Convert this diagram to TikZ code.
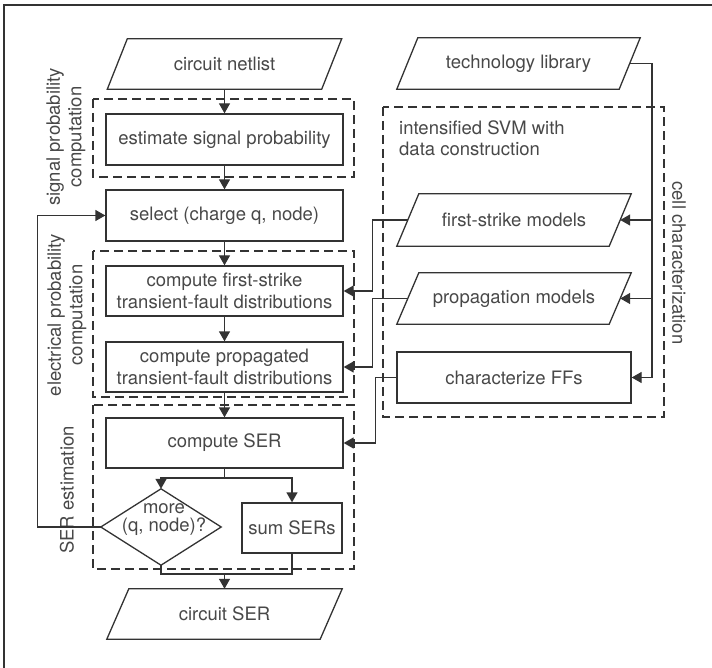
\documentclass[tikz,border=0pt]{standalone}
\usepackage{fontspec}
\setmainfont{TeX Gyre Heros}
\usetikzlibrary{arrows.meta,calc}
\definecolor{ink}{HTML}{333333}
\definecolor{txt}{HTML}{484848}
\newcommand\paradraw[2]{%
  \draw[line] ([xshift=#2pt]#1.north west) -- ([xshift=#2pt]#1.north east) -- ([xshift=-#2pt]#1.south east) -- ([xshift=-#2pt]#1.south west) -- cycle;}
\begin{document}
\begin{tikzpicture}[x=1pt,y=-1pt,
  line/.style={draw=ink, line width=1.3pt},
  tfont/.style={font=\fontsize{18.5}{21.5}\selectfont},
  box/.style={line, rectangle, inner sep=0pt, align=center, text=txt, tfont},
  pnode/.style={rectangle, inner sep=0pt, align=center, text=txt, tfont, draw=none},
  arr/.style={line, -{Triangle[length=10pt,width=11pt]}},
  dbox/.style={draw=ink, line width=1.1pt, dash pattern=on 9pt off 5pt},
  lbl/.style={text=txt, tfont, align=center, inner sep=0pt}]
\useasboundingbox (0,0) rectangle (712,668);
\draw[draw=ink, line width=1.5pt] (4,668) -- (4,5) -- (712,5);

% dashed groups
\draw[dbox] (93,99) rectangle (354,177);
\draw[dbox] (93,251) rectangle (354,397);
\draw[dbox] (93,405) rectangle (354,569);
\draw[dbox] (383,107) rectangle (664,417);

% left column
\node[pnode, minimum width=214pt, minimum height=50pt] (cn) at (224.5,64) {circuit netlist};
\paradraw{cn}{10}
\node[box, minimum width=237pt, minimum height=51pt] (est) at (224.5,139.5) {estimate signal probability};
\node[box, minimum width=237pt, minimum height=51pt] (sel) at (224.5,215.5) {select (charge q, node)};
\node[box, minimum width=237pt, minimum height=50pt] (fs) at (224.5,291) {compute first-strike\\transient-fault distributions};
\node[box, minimum width=237pt, minimum height=50pt] (pr) at (224.5,367) {compute propagated\\transient-fault distributions};
\node[box, minimum width=237pt, minimum height=50pt] (ser) at (224.5,443) {compute SER};
\node[pnode, minimum width=120pt, minimum height=76pt] (dm) at (161,527) {};
\draw[line] (dm.north) -- (dm.east) -- (dm.south) -- (dm.west) -- cycle;
\node[lbl, font=\fontsize{18.5}{18}\selectfont] (dmt) at (164,520) {more\\(q, node)?};
\node[box, minimum width=100pt, minimum height=50pt] (sum) at (292,528) {sum SERs};
\node[pnode, minimum width=213pt, minimum height=50pt] (cser) at (224.5,614) {circuit SER};
\paradraw{cser}{11}

% right column
\node[pnode, minimum width=222pt, minimum height=51pt] (tl) at (518.5,63.5) {technology library};
\paradraw{tl}{10.5}
\node[lbl, align=left, anchor=west] (svm) at (399,138) {intensified SVM with\\data construction};
\node[pnode, minimum width=212pt, minimum height=52pt] (fsm) at (514,220) {first-strike models};
\paradraw{fsm}{11}
\node[pnode, minimum width=212pt, minimum height=51pt] (pm) at (514,298.5) {propagation models};
\paradraw{pm}{11}
\node[box, minimum width=234pt, minimum height=51pt] (cff) at (514,377.5) {characterize FFs};

% side labels
\node[lbl, rotate=90] (lsp) at (66,137) {signal probability\\computation};
\node[lbl, rotate=90] (lep) at (67,315) {electrical probability\\computation};
\node[lbl, rotate=90] (lse) at (67,490) {SER estimation};
\node[lbl, rotate=-90] (lcc) at (679,263) {cell characterization};

% main flow
\draw[arr] (cn.south) -- (est.north);
\draw[arr] (est.south) -- (sel.north);
\draw[arr] (sel.south) -- (fs.north);
\draw[arr] (fs.south) -- (pr.north);
\draw[arr] (pr.south) -- (ser.north);
\coordinate (split) at (224.5,478);
\draw[line] (ser.south) -- (split);
\draw[arr] (split) -| (dm.north);
\draw[arr] (split) -| (sum.north);
\coordinate (merge) at (224.5,574);
\draw[line] (dm.south) |- (merge);
\draw[line] (sum.south) |- (merge);
\draw[arr] (merge) -- (cser.north);
\draw[arr] (dm.west) -- ++(-63,0) |- (sel.west);

% right bus
\coordinate (busTop) at (652,63.5);
\coordinate (busBot) at (652,377.5);
\draw[line] (tl.east) -- (busTop) -- (busBot);
\draw[arr] (busTop |- fsm.east) -- (fsm.east);
\draw[arr] (busTop |- pm.east) -- (pm.east);
\draw[arr] (busBot) -- (cff.east);

% cross connections
\draw[arr] (fsm.west) -- ++(-35,0) |- (fs.east);
\draw[arr] (pm.west) -- ++(-35,0) |- (pr.east);
\draw[arr] (cff.west) -- ++(-21,0) |- (ser.east);
\end{tikzpicture}
\end{document}
